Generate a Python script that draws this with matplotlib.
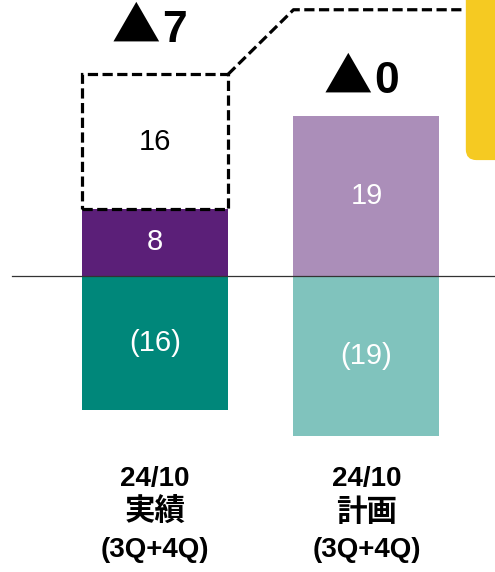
import matplotlib
matplotlib.use("Agg")
import matplotlib.pyplot as plt
from matplotlib.patches import Rectangle, FancyBboxPatch

# data
categories = ["24/10\n実績\n(3Q+4Q)", "24/10\n計画\n(3Q+4Q)"]
upper_values = [8, 19]          # purple segment above zero
gap_values = [16, 0]            # dashed (missing) segment on top
lower_values = [-16, -19]       # teal segment below zero
delta_values = [7, 0]
connector_level = 31.7          # level of the dashed line going to the right

upper_colors = ["#5B1F78", "#AB8EB9"]
lower_colors = ["#00877A", "#80C3BD"]
yellow = "#F5CA22"

fonts = ["Liberation Sans", "Noto Sans CJK JP", "DejaVu Sans"]
plt.rcParams["font.family"] = fonts

fig = plt.figure(figsize=(4.95, 5.72), dpi=100)
ax = fig.add_axes([0, 0, 1, 1])
ax.set_xlim(-0.733, 1.608)
ax.set_ylim(-35.24, 32.86)
ax.axis("off")

width = 0.69
xs = list(range(len(categories)))

ax.bar(xs, upper_values, width=width, color=upper_colors, zorder=2)
ax.bar(xs, lower_values, width=width, color=lower_colors, zorder=2)

# zero line
ax.plot([-0.676, 1.608], [0, 0], color="#333333", lw=0.9, zorder=3)

dash = (0, (3.2, 1.4))
for x, up, gap in zip(xs, upper_values, gap_values):
    if gap:
        ax.add_patch(Rectangle((x - width / 2, up), width, gap, fill=False,
                               ec="black", lw=2.3, ls=dash, zorder=4))
        ax.text(x, up + gap / 2, str(gap), ha="center", va="center",
                fontsize=21, color="black")

# connector from dashed box to the yellow panel
top0 = upper_values[0] + gap_values[0]
box_left = 1.47
ax.plot([xs[0] + width / 2, xs[1] - width / 2, box_left],
        [top0, connector_level, connector_level],
        color="black", lw=2.3, ls=dash, zorder=4)

# yellow panel on the right edge
ax.add_patch(FancyBboxPatch((box_left, 13.8), 0.4, 30,
                            boxstyle="round,pad=0,rounding_size=0.05",
                            mutation_aspect=211.5 / 8.4,
                            fc=yellow, ec="none", zorder=1))

# value labels inside bars
for x, up, lo in zip(xs, upper_values, lower_values):
    ax.text(x, up / 2, str(up), ha="center", va="center",
            fontsize=21, color="white", zorder=5)
    ax.text(x, lo / 2, f"({-lo})", ha="center", va="center",
            fontsize=21, color="white", zorder=5)

# delta labels above each bar: full-width triangle + bold digit
delta_base = [27.86, 21.79]
for x, d, y in zip(xs, delta_values, delta_base):
    ax.text(x + 0.025, y, "▲", ha="right", va="baseline", fontsize=35,
            family=["Noto Sans CJK JP", "DejaVu Sans"], color="black")
    ax.text(x + 0.035, y, str(d), ha="left", va="baseline", fontsize=32,
            fontweight="bold", color="black")

# category labels, one text per line (CJK line a bit larger)
for x, cat in zip(xs, categories):
    for i, line in enumerate(cat.split("\n")):
        size = 22 if i == 1 else 20
        ax.text(x, -25.0 - i * 4.2, line, ha="center", va="baseline",
                fontsize=size, fontweight="bold", color="black")

fig.savefig("out.png", dpi=100)
